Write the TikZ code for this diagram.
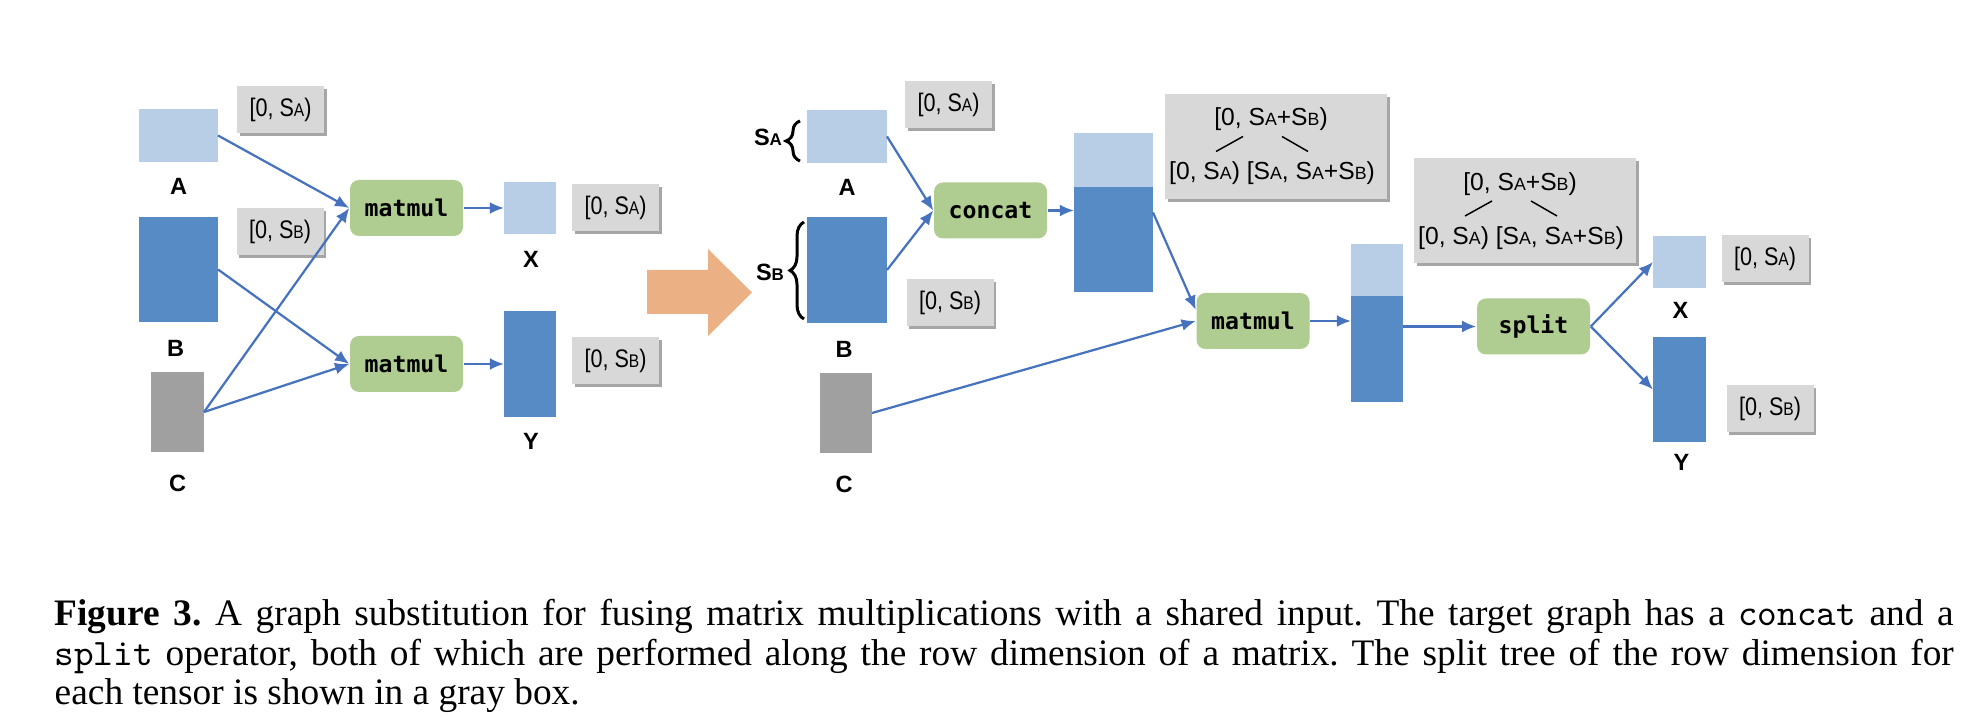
\documentclass[tikz,border=0pt]{standalone}
\usepackage{fontspec}
\setmainfont{Liberation Serif}
\setsansfont{Liberation Sans}
\newfontfamily\codigo{DejaVu Sans Mono}
\newfontfamily\estrecha[FakeStretch=0.85]{Liberation Sans}
\usepackage{graphicx}
\usepackage{xcolor}
\usepackage{tikz}
\usetikzlibrary{shadows,arrows.meta,decorations.pathreplacing}
\definecolor{azulclaro}{RGB}{183,206,230}
\definecolor{azuloscuro}{RGB}{86,139,197}
\definecolor{grismedio}{RGB}{160,160,160}
\definecolor{grisclaro}{RGB}{216,216,216}
\definecolor{verdeop}{RGB}{175,205,145}
\definecolor{azulflecha}{RGB}{71,114,190}
\definecolor{naranja}{RGB}{235,176,131}
\newlength{\px}
\setlength{\px}{0.2677pt}
\tikzstyle{tensor}=[inner sep=0pt, outer sep=0pt, minimum width=79\px]
\tikzstyle{claro}=[tensor, fill=azulclaro]
\tikzstyle{oscuro}=[tensor, fill=azuloscuro]
\tikzstyle{entrada}=[tensor, fill=grismedio, minimum width=53\px,
  minimum height=80\px]
\tikzstyle{op}=[fill=verdeop, rounded corners=9\px, minimum width=113\px,
  minimum height=56\px, inner sep=0pt,
  font=\codigo\bfseries\fontsize{6.2pt}{7pt}\selectfont]
\tikzstyle{rango}=[fill=grisclaro, minimum width=87\px, minimum height=47\px,
  inner sep=0pt, drop shadow={shadow xshift=0.7pt, shadow yshift=-0.7pt,
  fill=black!35, opacity=1}, font=\estrecha\fontsize{6.8pt}{8pt}\selectfont]
\tikzstyle{arbol}=[rango, minimum width=222\px, minimum height=105\px]
\tikzstyle{hoja}=[inner sep=0pt, font=\sffamily\fontsize{6.6pt}{8pt}\selectfont]
\tikzstyle{etiqueta}=[inner sep=0pt,
  font=\sffamily\bfseries\fontsize{6.3pt}{7pt}\selectfont]
\tikzstyle{line}=[draw, line width=0.6pt, color=azulflecha,
  -{Latex[length=3.8pt,width=3.2pt]}]
\tikzstyle{llave}=[draw, line width=0.8pt, decorate,
  decoration={brace, amplitude=14\px}]
\newcommand{\Ssub}[1]{S\scalebox{0.72}{#1}}
\newcommand{\rango}[2]{node (#1) [rango] {[0, \Ssub{#2})}}
\newcommand{\splittree}[2]{%
  \path #2 node (t#1) [arbol] {};
  % Parent range and its two halves
  \path (t#1.center)+(-5,-27) node (t#1s) [hoja] {[0, \Ssub{A}+\Ssub{B})};
  \path (t#1.center)+(-4,27) node (t#1i) [hoja]
    {[0, \Ssub{A}) [\Ssub{A}, \Ssub{A}+\Ssub{B})};
  \draw [line width=0.4pt] (t#1.center)+(-33,-10) -- +(-60,5);
  \draw [line width=0.4pt] (t#1.center)+(6,-10) -- +(32,5);}

\begin{document}
\begin{tikzpicture}[x=\px, y=-\px]
\useasboundingbox (0,0) rectangle (1984,720);

  % Draw diagram elements (source graph)
\path (178.5,135.5) node (a) [claro, minimum height=53\px] {};
\path (a.center)+(0,134) node (b) [oscuro, minimum height=105\px] {};
\path (177.5,412) node (c) [entrada] {};
\path (a.south)+(0,24) node (la) [etiqueta] {A};
\path (b.south)+(-3,26) node (lb) [etiqueta] {B};
\path (c.south)+(0,31) node (lc) [etiqueta] {C};
\path (a.east)+(62.5,-26) \rango{ra1}{A};
\path (b.east)+(62,-38) \rango{rb1}{B};

\path (406.5,208) node (m1) [op] {matmul};
\path (m1.center)+(0,156) node (m2) [op] {matmul};

\path (530,208) node (x) [claro, minimum width=52\px, minimum height=52\px] {};
\path (530,364) node (y) [oscuro, minimum width=52\px, minimum height=106\px] {};
\path (x.south)+(1,25) node (lx) [etiqueta] {X};
\path (y.south)+(1,24) node (ly) [etiqueta] {Y};
\path (x.east)+(59.5,0) \rango{rx1}{A};
\path (y.east)+(59.5,-3) \rango{ry1}{B};

  % Substitution arrow
\fill [naranja] (647,270) -- (708,270) -- (708,249) -- (752,292.5)
  -- (708,336) -- (708,314) -- (647,314) -- cycle;

  % Draw diagram elements (target graph)
\path (847,136.5) node (a2) [claro, minimum width=80\px, minimum height=53\px] {};
\path (847,270) node (b2) [oscuro, minimum width=80\px, minimum height=106\px] {};
\path (846,413) node (c2) [entrada, minimum width=52\px] {};
\path (a2.south)+(0,24) node (la2) [etiqueta] {A};
\path (b2.south)+(-3,26) node (lb2) [etiqueta] {B};
\path (c2.south)+(-2,31) node (lc2) [etiqueta] {C};
\path (a2.west)+(-39,1) node (sa) [etiqueta] {\Ssub{A}};
\path (b2.west)+(-37,2) node (sb) [etiqueta] {\Ssub{B}};
\draw [llave] (a2.south west)+(-7,-2) -- +(-7,-42);
\draw [llave] (b2.south west)+(-3,-4) -- +(-3,-101);
\path (a2.east)+(61.5,-31.5) \rango{ra2}{A};
\path (b2.east)+(63,32.5) \rango{rb2}{B};

\path (990.5,210.5) node (cc) [op] {concat};
\path (1113.5,212.5) node (o1) [oscuro, minimum height=159\px] {};
\path (o1.north) node (o1a) [claro, anchor=north, minimum height=54\px] {};
\splittree{1}{(1276,146.5)}

\path (1253,321) node (m3) [op] {matmul};
\path (1377,323) node (o2) [oscuro, minimum width=52\px, minimum height=158\px] {};
\path (o2.north) node (o2a) [claro, anchor=north, minimum width=52\px,
  minimum height=52\px] {};
\splittree{2}{(1525,211)}

\path (1533.5,326.5) node (sp) [op] {split};
\path (1679.5,262) node (x2) [claro, minimum width=53\px, minimum height=52\px] {};
\path (1679.5,389.5) node (y2) [oscuro, minimum width=53\px, minimum height=105\px] {};
\path (x2.south)+(1,22) node (lx2) [etiqueta] {X};
\path (y2.south)+(2,20) node (ly2) [etiqueta] {Y};
\path (x2.east)+(59,-3) \rango{rx2}{A};
\path (y2.east)+(64,19) \rango{ry2}{B};

  % Draw arrows between elements
\path [line] (a.east) -- (m1.west);
\path [line] (b.east) -- (m2.west);
\path [line] (c.east) -- (m1.west);
\path [line] (c.east) -- (m2.west);
\path [line] (m1.east) -- (x.west);
\path [line] (m2.east) -- (y.west);

\path [line] (a2.east) -- (cc.west);
\path [line] (b2.east) -- (cc.west);
\path [line] (cc.east) -- (cc.east -| o1.west);
\path [line] (o1.east) -- (m3.169);
\path [line] (c2.east) -- (m3.west);
\path [line] (m3.east) -- (m3.east -| o2.west);
\path [line] (sp.west -| o2.east) -- (sp.west);
\path [line] (sp.east) -- (x2.west);
\path [line] (sp.east) -- (y2.west);

  % Caption
\path (54,598) node (pie) [anchor=north west, inner sep=0pt, text width=1899\px,
  align=justify, font=\frenchspacing\fontsize{10pt}{10.7pt}\selectfont]
  {\textbf{Figure 3.} A graph substitution for fusing matrix multiplications
  with a shared input. The target graph has a \texttt{concat} and a\linebreak
  \texttt{split} operator, both of which are performed along the row dimension
  of a matrix. The split tree of the row dimension for\linebreak
  each tensor is shown in a gray box.};
\end{tikzpicture}
\end{document}
